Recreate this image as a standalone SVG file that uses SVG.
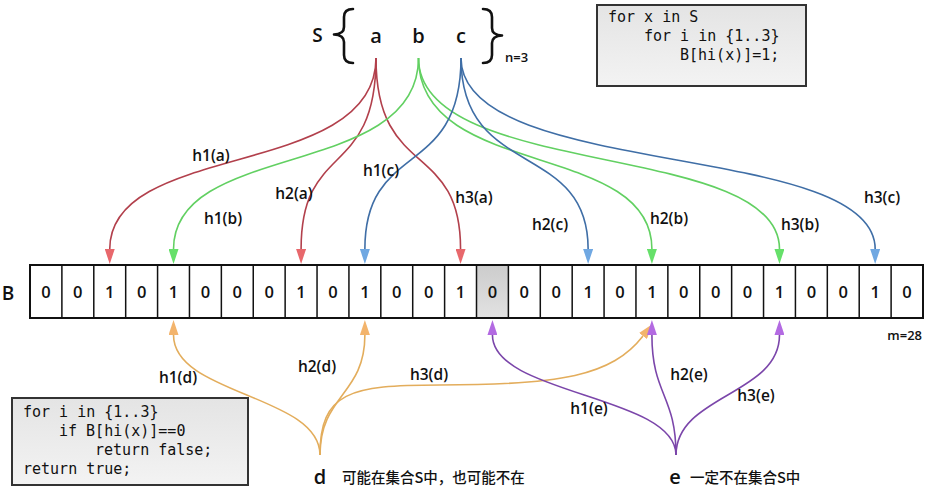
<svg xmlns="http://www.w3.org/2000/svg" width="933" height="500" viewBox="0 0 933 500">
<style>
.lbl{font-family:"Open Sans","Liberation Sans",sans-serif;font-size:15.5px;font-weight:600;fill:#111;text-anchor:middle}
.dig{font-family:"Open Sans","Liberation Sans",sans-serif;font-size:16.5px;font-weight:600;fill:#111;text-anchor:middle}
.big{font-family:"Open Sans","Liberation Sans",sans-serif;font-size:20px;font-weight:600;fill:#111;text-anchor:middle}
.small{font-family:"Open Sans","Liberation Sans",sans-serif;font-size:13px;font-weight:600;fill:#111}
.code{font-family:"DejaVu Sans Mono","Liberation Mono",monospace;font-size:15px;fill:#111}
.cn{font-family:"Noto Sans CJK SC","Noto Sans",sans-serif;font-size:14.5px;font-weight:500;fill:#111}
.box{fill:url(#boxg);stroke:#333;stroke-width:2}
.cell{fill:none;stroke:#111;stroke-width:1.5}
.brace{fill:none;stroke:#111;stroke-width:2.6;stroke-linecap:round;stroke-linejoin:round}
.c{fill:none;stroke-width:1.6}
.ra{stroke:#b2404c;marker-end:url(#mr)}
.ga{stroke:#62d062;marker-end:url(#mg)}
.ba{stroke:#3f6ea6;marker-end:url(#mb)}
.oa{stroke:#e3ad5c;marker-end:url(#mo)}
.pa{stroke:#7b46aa;marker-end:url(#mp)}
</style>
<defs>
<linearGradient id="boxg" x1="0" y1="0" x2="0" y2="1">
<stop offset="0" stop-color="#e4e4e4"/><stop offset="1" stop-color="#f3f3f3"/>
</linearGradient>
<linearGradient id="greyg" x1="0" y1="0" x2="0" y2="1">
<stop offset="0" stop-color="#cccccc"/><stop offset="1" stop-color="#e2e2e2"/>
</linearGradient>
<marker id="mr" viewBox="0 0 15 10" refX="0" refY="5" markerWidth="15" markerHeight="10" markerUnits="userSpaceOnUse" orient="auto"><path d="M0,0 L15,5 L0,10 z" fill="#e8686c"/></marker>
<marker id="mg" viewBox="0 0 15 10" refX="0" refY="5" markerWidth="15" markerHeight="10" markerUnits="userSpaceOnUse" orient="auto"><path d="M0,0 L15,5 L0,10 z" fill="#66e06a"/></marker>
<marker id="mb" viewBox="0 0 15 10" refX="0" refY="5" markerWidth="15" markerHeight="10" markerUnits="userSpaceOnUse" orient="auto"><path d="M0,0 L15,5 L0,10 z" fill="#70a8e2"/></marker>
<marker id="mo" viewBox="0 0 15 10" refX="0" refY="5" markerWidth="15" markerHeight="10" markerUnits="userSpaceOnUse" orient="auto"><path d="M0,0 L15,5 L0,10 z" fill="#f3b46c"/></marker>
<marker id="mp" viewBox="0 0 15 10" refX="0" refY="5" markerWidth="15" markerHeight="10" markerUnits="userSpaceOnUse" orient="auto"><path d="M0,0 L15,5 L0,10 z" fill="#b36ae2"/></marker>
</defs>
<rect width="933" height="500" fill="#ffffff"/>

<g id="set-S">
<text class="big" x="317.5" y="42" style="font-size:19px">S</text>
<path class="brace" d="M353,9 Q344,9 344,17 L344,27 Q344,34 334,34.5 Q344,35 344,42 L344,55 Q344,63 353,63"/>
<text class="big" x="376" y="42.5">a</text>
<text class="big" x="418.5" y="42.5">b</text>
<text class="big" x="461" y="42.5">c</text>
<path class="brace" d="M483,9 Q492,9 492,17 L492,28 Q492,35 502,35.5 Q492,36 492,43 L492,55 Q492,63 483,63"/>
<text class="small" x="505" y="61.5">n=3</text>
</g>

<g id="code-insert">
<rect class="box" x="597" y="5" width="209" height="81"/>
<text class="code" x="608" y="21.5">for x in S</text>
<text class="code" x="644" y="40.5">for i in {1..3}</text>
<text class="code" x="680" y="59.5">B[hi(x)]=1;</text>
</g>

<g id="code-query">
<rect class="box" x="12" y="398" width="236" height="87"/>
<text class="code" x="23" y="417">for i in {1..3}</text>
<text class="code" x="59" y="436">if B[hi(x)]==0</text>
<text class="code" x="95" y="455">return false;</text>
<text class="code" x="23" y="474">return true;</text>
</g>

<g id="array-B">
<text class="big" x="8" y="300" style="font-size:19px">B</text>
<rect x="476.5" y="265" width="31.9" height="53" fill="url(#greyg)"/>
<rect x="30" y="265" width="893" height="53" fill="none" stroke="#111" stroke-width="2"/>
<path class="cell" d="M61.89,265V318M93.79,265V318M125.68,265V318M157.57,265V318M189.46,265V318M221.36,265V318M253.25,265V318M285.14,265V318M317.04,265V318M348.93,265V318M380.82,265V318M412.71,265V318M444.61,265V318M476.5,265V318M508.39,265V318M540.29,265V318M572.18,265V318M604.07,265V318M635.96,265V318M667.86,265V318M699.75,265V318M731.64,265V318M763.54,265V318M795.43,265V318M827.32,265V318M859.21,265V318M891.11,265V318"/>
<text class="dig" x="45.95" y="297.5">0</text>
<text class="dig" x="77.84" y="297.5">0</text>
<text class="dig" x="109.74" y="297.5">1</text>
<text class="dig" x="141.63" y="297.5">0</text>
<text class="dig" x="173.52" y="297.5">1</text>
<text class="dig" x="205.41" y="297.5">0</text>
<text class="dig" x="237.31" y="297.5">0</text>
<text class="dig" x="269.2" y="297.5">0</text>
<text class="dig" x="301.09" y="297.5">1</text>
<text class="dig" x="332.99" y="297.5">0</text>
<text class="dig" x="364.88" y="297.5">1</text>
<text class="dig" x="396.77" y="297.5">0</text>
<text class="dig" x="428.66" y="297.5">0</text>
<text class="dig" x="460.56" y="297.5">1</text>
<text class="dig" x="492.45" y="297.5">0</text>
<text class="dig" x="524.34" y="297.5">0</text>
<text class="dig" x="556.24" y="297.5">0</text>
<text class="dig" x="588.13" y="297.5">1</text>
<text class="dig" x="620.02" y="297.5">0</text>
<text class="dig" x="651.91" y="297.5">1</text>
<text class="dig" x="683.81" y="297.5">0</text>
<text class="dig" x="715.7" y="297.5">0</text>
<text class="dig" x="747.59" y="297.5">0</text>
<text class="dig" x="779.49" y="297.5">1</text>
<text class="dig" x="811.38" y="297.5">0</text>
<text class="dig" x="843.27" y="297.5">0</text>
<text class="dig" x="875.16" y="297.5">1</text>
<text class="dig" x="907.06" y="297.5">0</text>
<text class="small" x="922" y="340" style="text-anchor:end">m=28</text>
</g>

<g id="query-d">
<text class="big" x="320" y="484">d</text>
<text class="cn" x="342" y="483">可能在集合S中，也可能不在</text>
</g>

<g id="query-e">
<text class="big" x="675" y="484">e</text>
<text class="cn" x="690" y="483">一定不在集合S中</text>
</g>

<g id="connectors">
<path class="c ra" d="M376,58 C376,180 109.74,140 109.74,249"/>
<path class="c ra" d="M376,58 C376,180 301.09,140 301.09,249"/>
<path class="c ra" d="M376,58 C376,180 460.56,140 460.56,249"/>
<path class="c ga" d="M418.5,58 C418.5,180 173.52,140 173.52,249"/>
<path class="c ga" d="M418.5,58 C418.5,180 651.91,140 651.91,249"/>
<path class="c ga" d="M418.5,58 C418.5,180 779.49,140 779.49,249"/>
<path class="c ba" d="M461,58 C461,180 364.88,140 364.88,249"/>
<path class="c ba" d="M461,58 C461,180 588.13,140 588.13,249"/>
<path class="c ba" d="M461,58 C461,180 875.16,140 875.16,249"/>
<path class="c oa" d="M320,455 C320,395 173.52,395 173.52,335"/>
<path class="c oa" d="M320,455 C320,395 364.88,395 364.88,335"/>
<path class="c oa" d="M320,455 C320,392 350,385 440,385 C560,385 612,376 643,336"/>
<path class="c pa" d="M676,455 C676,395 492.45,395 492.45,335"/>
<path class="c pa" d="M676,455 C676,395 651.91,395 651.91,335"/>
<path class="c pa" d="M676,455 C676,395 779.49,395 779.49,335"/>
<text class="lbl" x="211" y="160.5">h1(a)</text>
<text class="lbl" x="223" y="224">h1(b)</text>
<text class="lbl" x="294" y="199">h2(a)</text>
<text class="lbl" x="381" y="176">h1(c)</text>
<text class="lbl" x="474" y="203">h3(a)</text>
<text class="lbl" x="550" y="230">h2(c)</text>
<text class="lbl" x="669" y="224">h2(b)</text>
<text class="lbl" x="800" y="230">h3(b)</text>
<text class="lbl" x="882" y="203">h3(c)</text>
<text class="lbl" x="178" y="383">h1(d)</text>
<text class="lbl" x="317" y="371.5">h2(d)</text>
<text class="lbl" x="429" y="379.5">h3(d)</text>
<text class="lbl" x="589" y="414">h1(e)</text>
<text class="lbl" x="689" y="380">h2(e)</text>
<text class="lbl" x="756" y="401">h3(e)</text>
</g>
</svg>
